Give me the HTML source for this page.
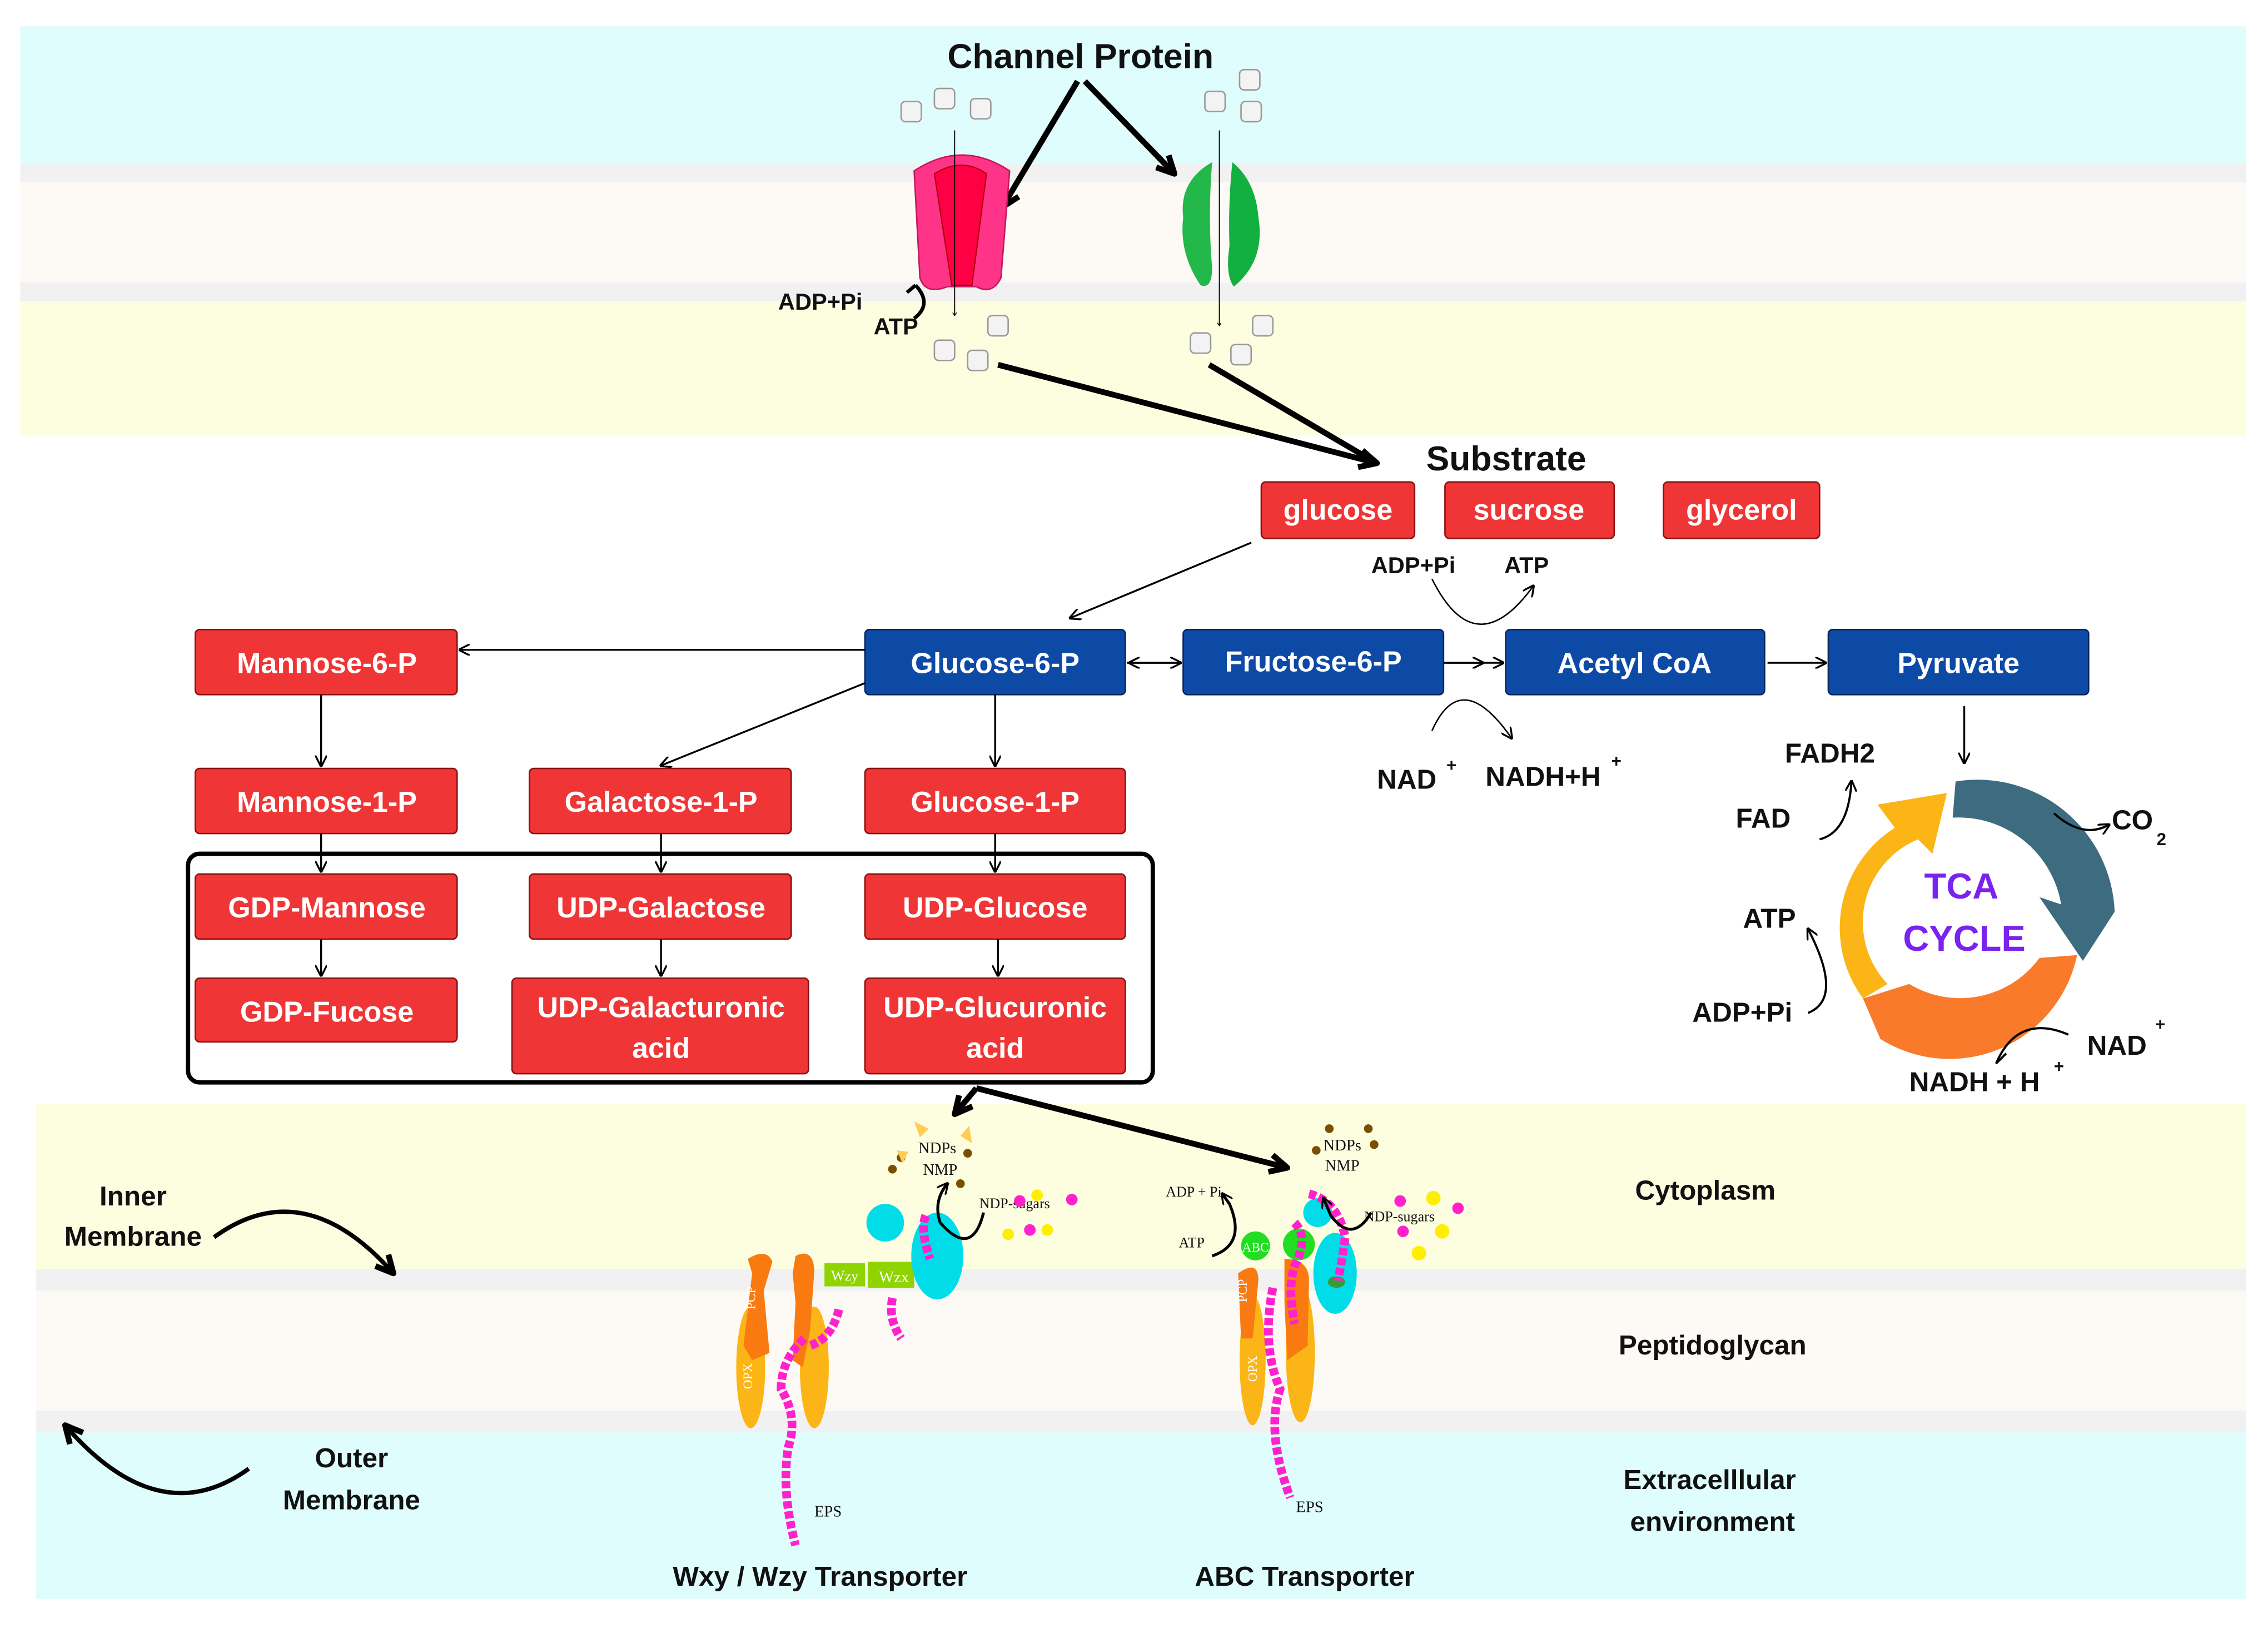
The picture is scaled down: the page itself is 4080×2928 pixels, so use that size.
<!DOCTYPE html>
<html><head><meta charset="utf-8"><style>
html,body{margin:0;padding:0;background:#fff;}
svg{display:block;}
text{font-family:"Liberation Sans",Arial,sans-serif;}
.b{font-weight:bold;fill:#111;}
.w{font-weight:bold;fill:#fff;font-size:20px;}
.s{font-family:"Liberation Serif",serif;fill:#111;}
</style></head><body>
<svg width="4080" height="2928" viewBox="0 0 1568 1125" xmlns="http://www.w3.org/2000/svg">
<defs>
<marker id="a" markerWidth="8" markerHeight="8" refX="7" refY="4" orient="auto" markerUnits="userSpaceOnUse"><path d="M0,0 L8,4 L0,8" fill="none" stroke="#000" stroke-width="1.3"/></marker>
<marker id="A" markerWidth="18" markerHeight="18" refX="15" refY="9" orient="auto" markerUnits="userSpaceOnUse"><path d="M3,3 L15,9 L3,15" fill="none" stroke="#000" stroke-width="4" stroke-linejoin="round"/></marker>
<marker id="h" markerWidth="4" markerHeight="4" refX="3" refY="2" orient="auto"><path d="M0,0 L3,2 L0,4" fill="none" stroke="#000" stroke-width="0.8"/></marker>
<g id="cube"><rect x="-7" y="-7" width="14" height="14" rx="3" fill="#f3f3f3" stroke="#999" stroke-width="1"/></g>
</defs>
<rect width="1568" height="1125" fill="#fff"/>
<rect x="14" y="18" width="1539" height="95" fill="#e0fdfd"/>
<rect x="14" y="113" width="1539" height="13" fill="#f1f1f1"/>
<rect x="14" y="126" width="1539" height="69" fill="#fdfaf6"/>
<rect x="14" y="195" width="1539" height="13" fill="#f1f1f1"/>
<rect x="14" y="208" width="1539" height="93" fill="#fdfde0"/>
<rect x="25" y="763" width="1528" height="114" fill="#fdfde0"/>
<rect x="25" y="877" width="1528" height="15" fill="#f1f1f1"/>
<rect x="25" y="892" width="1528" height="83" fill="#fdfaf6"/>
<rect x="25" y="975" width="1528" height="15" fill="#f1f1f1"/>
<rect x="25" y="990" width="1528" height="115" fill="#e0fdfd"/>

<text x="747" y="47" class="b" font-size="24" text-anchor="middle">Channel Protein</text>
<path d="M745,56 L693,143" stroke="#000" stroke-width="4" fill="none" marker-end="url(#A)"/>
<path d="M750,56 L812,120" stroke="#000" stroke-width="4" fill="none" marker-end="url(#A)"/>
<use href="#cube" x="630" y="77"/><use href="#cube" x="653" y="68"/><use href="#cube" x="678" y="75"/>
<use href="#cube" x="840" y="70"/><use href="#cube" x="864" y="55"/><use href="#cube" x="865" y="77"/>
<use href="#cube" x="690" y="225"/><use href="#cube" x="653" y="242"/><use href="#cube" x="676" y="249"/>
<use href="#cube" x="873" y="225"/><use href="#cube" x="830" y="237"/><use href="#cube" x="858" y="245"/>
<path d="M632,118 Q665,96 698,118 L692,192 Q686,204 675,198 L655,198 Q640,204 636,192 Z" fill="#ff3388" stroke="#c2185b" stroke-width="1"/>
<path d="M646,120 Q665,108 682,120 L672,197 L658,197 Z" fill="#ff0044" stroke="#a00" stroke-width="0.8"/>
<path d="M838,112 Q815,125 818,150 Q815,175 830,197 Q838,200 838,185 Q835,150 838,112 Z" fill="#22b84a"/>
<path d="M852,112 Q868,125 870,150 Q875,180 853,198 Q847,190 850,170 Q849,140 852,112 Z" fill="#12b040"/>
<line x1="660" y1="90" x2="660" y2="218" stroke="#000" stroke-width="0.7" marker-end="url(#h)"/>
<line x1="843" y1="90" x2="843" y2="225" stroke="#000" stroke-width="0.7" marker-end="url(#h)"/>
<path d="M633,197 Q645,210 632,220" stroke="#000" stroke-width="2.5" fill="none"/>
<path d="M633,197 L627,202" stroke="#000" stroke-width="2.5"/>
<text x="538" y="214" class="b" font-size="16">ADP+Pi</text>
<text x="604" y="231" class="b" font-size="16">ATP</text>
<path d="M690,252 L952,320" stroke="#000" stroke-width="4" fill="none" marker-end="url(#A)"/>
<path d="M836,252 L950,319" stroke="#000" stroke-width="4" fill="none"/>
<text x="986" y="325" class="b" font-size="24">Substrate</text>

<g stroke="#8a1010" stroke-width="1">
<rect x="872" y="333" width="106" height="39" rx="3" fill="#ef3535"/>
<rect x="999" y="333" width="117" height="39" rx="3" fill="#ef3535"/>
<rect x="1150" y="333" width="108" height="39" rx="3" fill="#ef3535"/>
<rect x="135" y="435" width="181" height="45" rx="3" fill="#ef3535"/>
<rect x="135" y="531" width="181" height="45" rx="3" fill="#ef3535"/>
<rect x="366" y="531" width="181" height="45" rx="3" fill="#ef3535"/>
<rect x="598" y="531" width="180" height="45" rx="3" fill="#ef3535"/>
<rect x="135" y="604" width="181" height="45" rx="3" fill="#ef3535"/>
<rect x="366" y="604" width="181" height="45" rx="3" fill="#ef3535"/>
<rect x="598" y="604" width="180" height="45" rx="3" fill="#ef3535"/>
<rect x="135" y="676" width="181" height="44" rx="3" fill="#ef3535"/>
<rect x="354" y="676" width="205" height="66" rx="3" fill="#ef3535"/>
<rect x="598" y="676" width="180" height="66" rx="3" fill="#ef3535"/>
</g>
<g stroke="#06255a" stroke-width="1" fill="#0d4aa6">
<rect x="598" y="435" width="180" height="45" rx="3"/>
<rect x="818" y="435" width="180" height="45" rx="3"/>
<rect x="1041" y="435" width="179" height="45" rx="3"/>
<rect x="1264" y="435" width="180" height="45" rx="3"/>
</g>
<g text-anchor="middle">
<text x="925" y="359" class="w">glucose</text>
<text x="1057" y="359" class="w">sucrose</text>
<text x="1204" y="359" class="w">glycerol</text>
<text x="226" y="465" class="w">Mannose-6-P</text>
<text x="688" y="465" class="w">Glucose-6-P</text>
<text x="908" y="464" class="w">Fructose-6-P</text>
<text x="1130" y="465" class="w">Acetyl CoA</text>
<text x="1354" y="465" class="w">Pyruvate</text>
<text x="226" y="561" class="w">Mannose-1-P</text>
<text x="457" y="561" class="w">Galactose-1-P</text>
<text x="688" y="561" class="w">Glucose-1-P</text>
<text x="226" y="634" class="w">GDP-Mannose</text>
<text x="457" y="634" class="w">UDP-Galactose</text>
<text x="688" y="634" class="w">UDP-Glucose</text>
<text x="226" y="706" class="w">GDP-Fucose</text>
<text x="457" y="703" class="w">UDP-Galacturonic</text>
<text x="457" y="731" class="w">acid</text>
<text x="688" y="703" class="w">UDP-Glucuronic</text>
<text x="688" y="731" class="w">acid</text>
</g>
<rect x="130" y="590" width="667" height="158" rx="8" fill="none" stroke="#000" stroke-width="3"/>

<g stroke="#000" stroke-width="1.3" fill="none" marker-end="url(#a)">
<path d="M865,375 L740,427"/>
<path d="M598,449 L318,449"/>
<path d="M688,480 L688,529"/>
<path d="M598,472 L457,529"/>
<path d="M222,480 L222,529"/>
<path d="M222,576 L222,602"/>
<path d="M457,576 L457,602"/>
<path d="M688,576 L688,602"/>
<path d="M222,649 L222,674"/>
<path d="M457,649 L457,674"/>
<path d="M690,649 L690,674"/>
<path d="M779,458 L816,458"/>
<path d="M998,458 L1039,458"/>
<path d="M1222,458 L1262,458"/>
<path d="M1358,488 L1358,527"/>
</g>
<path d="M815,458 L781,458" stroke="#000" stroke-width="1.3" marker-end="url(#a)"/>
<path d="M1000,458 L1025,458" stroke="#000" stroke-width="1.3" marker-end="url(#a)"/>
<path d="M990,400 Q1020,460 1060,405" stroke="#000" stroke-width="1" fill="none" marker-end="url(#a)"/>
<path d="M990,505 Q1010,460 1045,510" stroke="#000" stroke-width="1" fill="none" marker-end="url(#a)"/>
<text x="948" y="396" class="b" font-size="16">ADP+Pi</text>
<text x="1040" y="396" class="b" font-size="16">ATP</text>
<text x="952" y="545" class="b" font-size="19">NAD</text><text x="1000" y="533" class="b" font-size="12">+</text>
<text x="1027" y="543" class="b" font-size="19">NADH+H</text><text x="1114" y="530" class="b" font-size="12">+</text>

<path d="M1288,690 A82,82 0 0 1 1310,572 L1298,556 L1346,548 L1336,590 L1326,580 A62,62 0 0 0 1305,680 Z" fill="#fbb516"/>
<path d="M1352,540 A95,95 0 0 1 1462,630 L1440,664 L1410,620 L1425,625 A72,72 0 0 0 1350,565 Z" fill="#3d6b80"/>
<path d="M1436,660 A90,90 0 0 1 1300,718 L1288,690 L1320,680 A68,68 0 0 0 1410,662 Z" fill="#f97a2a"/>
<text x="1356" y="621" text-anchor="middle" font-weight="bold" font-size="25" fill="#7a22ee">TCA</text>
<text x="1358" y="657" text-anchor="middle" font-weight="bold" font-size="25" fill="#7a22ee">CYCLE</text>
<g stroke="#000" stroke-width="1.5" fill="none">
<path d="M1258,580 Q1278,575 1280,540" marker-end="url(#a)"/>
<path d="M1420,562 Q1440,580 1458,570" marker-end="url(#a)"/>
<path d="M1250,700 Q1275,690 1250,642" marker-end="url(#a)"/>
<path d="M1380,735 Q1395,700 1430,715"/>
<path d="M1380,735 L1387,728"/>
</g>
<text x="1234" y="527" class="b" font-size="19">FADH2</text>
<text x="1200" y="572" class="b" font-size="19">FAD</text>
<text x="1460" y="573" class="b" font-size="19">CO</text><text x="1491" y="584" class="b" font-size="12">2</text>
<text x="1205" y="641" class="b" font-size="19">ATP</text>
<text x="1170" y="706" class="b" font-size="19">ADP+Pi</text>
<text x="1443" y="729" class="b" font-size="19">NAD</text><text x="1490" y="712" class="b" font-size="12">+</text>
<text x="1320" y="754" class="b" font-size="19">NADH + H</text><text x="1420" y="741" class="b" font-size="12">+</text>

<path d="M675,752 L660,770" stroke="#000" stroke-width="4" marker-end="url(#A)"/>
<path d="M675,752 L890,807" stroke="#000" stroke-width="4" marker-end="url(#A)"/>

<text x="92" y="833" class="b" font-size="19" text-anchor="middle">Inner</text>
<text x="92" y="861" class="b" font-size="19" text-anchor="middle">Membrane</text>
<path d="M148,855 Q210,810 272,880" stroke="#000" stroke-width="3" fill="none" marker-end="url(#A)"/>
<text x="243" y="1014" class="b" font-size="19" text-anchor="middle">Outer</text>
<text x="243" y="1043" class="b" font-size="19" text-anchor="middle">Membrane</text>
<path d="M172,1015 Q110,1060 45,985" stroke="#000" stroke-width="3" fill="none" marker-end="url(#A)"/>
<text x="1179" y="829" class="b" font-size="19" text-anchor="middle">Cytoplasm</text>
<text x="1184" y="936" class="b" font-size="19" text-anchor="middle">Peptidoglycan</text>
<text x="1182" y="1029" class="b" font-size="19" text-anchor="middle">Extracelllular</text>
<text x="1184" y="1058" class="b" font-size="19" text-anchor="middle">environment</text>
<text x="567" y="1096" class="b" font-size="19" text-anchor="middle">Wxy / Wzy Transporter</text>
<text x="902" y="1096" class="b" font-size="19" text-anchor="middle">ABC Transporter</text>

<g>
<ellipse cx="519" cy="945" rx="10" ry="42" fill="#fbb516"/>
<ellipse cx="563" cy="945" rx="10" ry="42" fill="#fbb516"/>
<path d="M517,870 Q530,862 534,872 L528,892 L532,935 L520,940 L514,930 L520,880 Z" fill="#f97a10"/>
<path d="M550,868 Q562,862 563,878 L560,920 L555,945 L548,940 L550,900 L548,880 Z" fill="#f97a10"/>
<rect x="570" y="873" width="28" height="16" fill="#8fd400"/><rect x="600" y="872" width="32" height="18" fill="#8fd400"/>
<text x="584" y="885" font-size="10" text-anchor="middle" class="s" style="fill:#fff">Wzy</text>
<text x="618" y="886" font-size="11" text-anchor="middle" class="s" style="fill:#fff">Wzx</text>
<ellipse cx="648" cy="868" rx="18" ry="30" fill="#00dde8"/><circle cx="612" cy="845" r="13" fill="#00dde8"/>
<text x="520" y="960" font-size="9" class="s" style="fill:#fff" transform="rotate(-90 520 960)">OPX</text>
<text x="522" y="905" font-size="9" class="s" style="fill:#fff" transform="rotate(-90 522 905)">PCP</text>
<path d="M556,925 Q540,940 540,960 Q552,980 545,1000 Q540,1030 550,1068" stroke="#ff22cc" stroke-width="6" stroke-dasharray="5 2" fill="none"/>
<path d="M580,905 Q575,925 560,930" stroke="#ff22cc" stroke-width="6" stroke-dasharray="5 2" fill="none"/>
<path d="M617,897 Q614,912 623,925" stroke="#ff22cc" stroke-width="6" stroke-dasharray="5 2" fill="none"/>
<path d="M640,840 Q636,850 643,870" stroke="#ff22cc" stroke-width="6" stroke-dasharray="5 2" fill="none"/>
<text x="563" y="1048" font-size="11" class="s">EPS</text>
<text x="648" y="797" font-size="11" class="s" text-anchor="middle">NDPs</text>
<text x="650" y="812" font-size="11" class="s" text-anchor="middle">NMP</text>
<text x="677" y="835" font-size="10" class="s">NDP-sugars</text>
<path d="M680,838 Q672,870 650,845 Q645,830 655,818" stroke="#000" stroke-width="2" fill="none" marker-end="url(#a)"/>
<g fill="#ff22cc"><circle cx="705" cy="830" r="4"/><circle cx="741" cy="829" r="4"/><circle cx="712" cy="850" r="4"/></g>
<g fill="#ffee00"><circle cx="717" cy="826" r="4"/><circle cx="697" cy="853" r="4"/><circle cx="724" cy="850" r="4"/></g>
<g fill="#7a4f00"><circle cx="623" cy="800" r="3"/><circle cx="664" cy="818" r="3"/><circle cx="617" cy="808" r="3"/><circle cx="669" cy="797" r="3"/></g>
<g fill="#ffcc55"><path d="M632,775 L642,780 L636,786 Z"/><path d="M664,785 L670,778 L672,790 Z"/><path d="M620,795 L628,796 L624,804 Z"/></g>
</g>

<g>
<ellipse cx="866" cy="940" rx="9" ry="45" fill="#fbb516"/>
<ellipse cx="899" cy="935" rx="10" ry="48" fill="#fbb516"/>
<path d="M856,880 Q870,870 870,885 L866,925 L858,925 Z" fill="#f97a10"/>
<path d="M888,870 Q905,870 905,885 L904,930 L890,940 L888,900 Z" fill="#f97a10"/>
<ellipse cx="923" cy="880" rx="15" ry="28" fill="#00dde8"/><circle cx="911" cy="838" r="10" fill="#00dde8"/>
<circle cx="868" cy="861" r="10" fill="#22dd22"/><circle cx="898" cy="860" r="11" fill="#22dd22"/>
<text x="868" y="865" font-size="9" text-anchor="middle" class="s" style="fill:#fff">ABC</text>
<text x="862" y="900" font-size="9" class="s" style="fill:#fff" transform="rotate(-90 862 900)">PCP</text>
<text x="869" y="955" font-size="9" class="s" style="fill:#fff" transform="rotate(-90 869 955)">OPX</text>
<ellipse cx="924" cy="886" rx="6" ry="4" fill="#3a9a3a"/>
<path d="M880,890 Q872,930 885,960 Q875,990 892,1035" stroke="#ff22cc" stroke-width="6" stroke-dasharray="5 2" fill="none"/>
<path d="M895,845 Q905,855 895,875 Q890,890 895,915" stroke="#ff22cc" stroke-width="6" stroke-dasharray="5 2" fill="none"/>
<path d="M905,825 Q925,830 930,855 Q928,870 925,885" stroke="#ff22cc" stroke-width="6" stroke-dasharray="5 2" fill="none"/>
<text x="896" y="1045" font-size="11" class="s">EPS</text>
<text x="928" y="795" font-size="11" class="s" text-anchor="middle">NDPs</text>
<text x="928" y="809" font-size="11" class="s" text-anchor="middle">NMP</text>
<text x="943" y="844" font-size="10" class="s">NDP-sugars</text>
<text x="806" y="827" font-size="10" class="s">ADP + Pi</text>
<text x="815" y="862" font-size="10" class="s">ATP</text>
<path d="M838,868 Q862,860 850,832 L845,825" stroke="#000" stroke-width="2" fill="none" marker-end="url(#a)"/>
<path d="M948,838 Q935,860 920,840 L915,828" stroke="#000" stroke-width="2" fill="none" marker-end="url(#a)"/>
<g fill="#ff22cc"><circle cx="968" cy="830" r="4"/><circle cx="1008" cy="835" r="4"/><circle cx="970" cy="851" r="4"/></g>
<g fill="#ffee00"><circle cx="991" cy="828" r="5"/><circle cx="997" cy="851" r="5"/><circle cx="981" cy="866" r="5"/></g>
<g fill="#7a4f00"><circle cx="919" cy="780" r="3"/><circle cx="946" cy="780" r="3"/><circle cx="950" cy="791" r="3"/><circle cx="910" cy="795" r="3"/></g>
</g>
</svg>
</body></html>
